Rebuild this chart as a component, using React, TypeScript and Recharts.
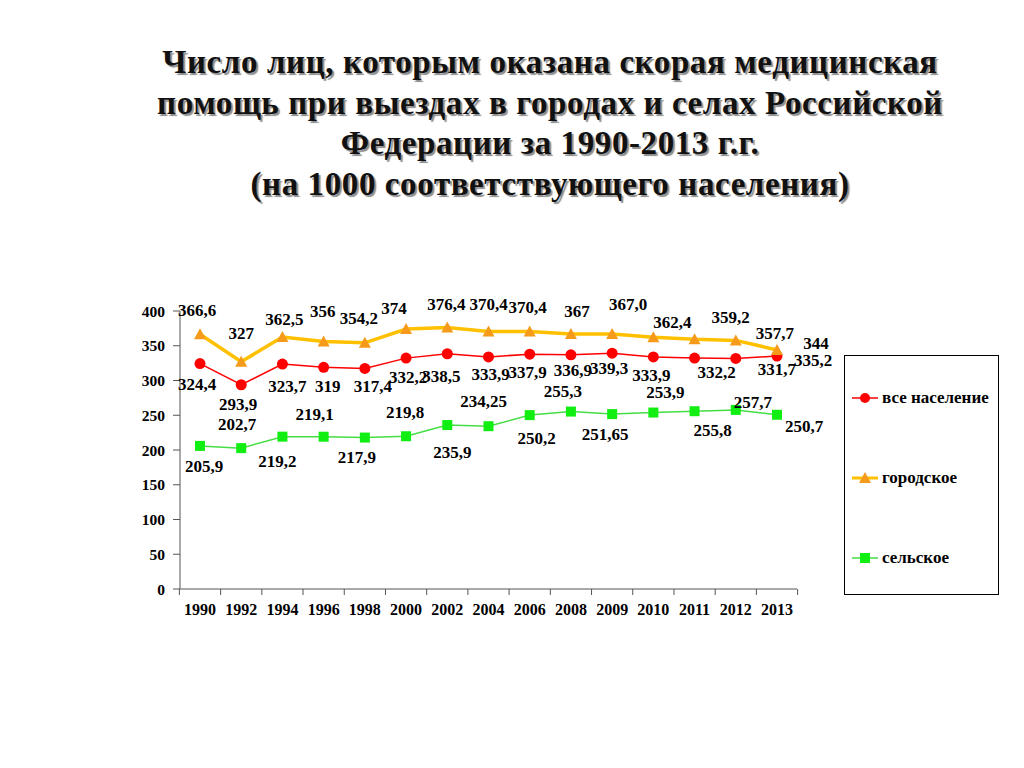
import React from 'react';
import { LineChart, Line, XAxis, YAxis, Legend, LabelList } from 'recharts';

const years = ['1990', '1992', '1994', '1996', '1998', '2000', '2002', '2004', '2006', '2008', '2009', '2010', '2011', '2012', '2013'];
const allPopulation = [324.4, 293.9, 323.7, 319, 317.4, 332.2, 338.5, 333.9, 337.9, 336.9, 339.3, 333.9, 332.2, 331.7, 335.2];
const urban = [366.6, 327, 362.5, 356, 354.2, 374, 376.4, 370.4, 370.4, 367, 367.0, 362.4, 359.2, 357.7, 344];
const rural = [205.9, 202.7, 219.2, 219.1, 217.9, 219.8, 235.9, 234.25, 250.2, 255.3, 251.65, 253.9, 255.8, 257.7, 250.7];
const yTicks = [0, 50, 100, 150, 200, 250, 300, 350, 400];

// label offsets from each point, [dx, dy], as placed on the original slide
const urbanShift = [[-3, -24], [0, -28], [2, -18], [-1, -30], [-6, -24], [-12, -21], [-1, -23], [0, -27], [-2, -24], [6, -22], [16, -29], [19, -15], [36, -22], [39, -7], [39, -6]];
const allShift = [[-3, 21], [-3, 20], [5, 22], [4, 19], [8, 18], [2, 19], [-6, 23], [2, 18], [-2, 18], [2, 16], [-3, 15], [-2, 19], [22, 14], [41, 11], [36, 4]];
const ruralShift = [[4, 21], [-4, -24], [-5, 25], [-9, -22], [-8, 20], [-1, -24], [5, 27], [-5, -25], [7, 23], [-8, -20], [-7, 20], [12, -20], [18, 19], [17, -7], [27, 12]];

const chartData = years.map((year, i) => ({
  year,
  all: allPopulation[i],
  urban: urban[i],
  rural: rural[i],
}));

const FONT = '"Liberation Serif", "Times New Roman", serif';
const RED = '#ff0000';
const GOLD = '#ffc000';
const ORANGE = '#f59a1a';
const GREEN_LINE = '#44dd44';
const GREEN = '#11ee11';
const HALF_STEP = 20.6;
const LAST = years.length - 1;

const fmt = (v: number, i: number, key: string) => {
  if (key === 'urban' && i === 10) return '367,0';
  return String(v).replace('.', ',');
};

const makeLabel = (shift: number[][], key: string) => (props: any) => {
  const { x, y, value, index } = props;
  const [dx, dy] = shift[index] || [0, 0];
  return (
    <text x={x + dx} y={y + dy} textAnchor="middle" dominantBaseline="central" fontFamily={FONT} fontWeight="bold" fontSize={17} fill="#000">
      {fmt(value, index, key)}
    </text>
  );
};

const Triangle = ({ cx, cy }: { cx: number; cy: number }) => (
  <polygon points={`${cx},${cy - 6} ${cx + 6},${cy + 5} ${cx - 6},${cy + 5}`} fill={ORANGE} />
);
const Square = ({ cx, cy }: { cx: number; cy: number }) => (
  <rect x={cx - 5} y={cy - 5} width={10} height={10} fill={GREEN} />
);

const XTick = (props: any) => {
  const { x, y, payload, index } = props;
  const axisY = y - 8;
  return (
    <g>
      <line x1={x - HALF_STEP} y1={axisY} x2={x - HALF_STEP} y2={axisY + 6} stroke="#555" />
      {index === LAST && <line x1={x + HALF_STEP} y1={axisY} x2={x + HALF_STEP} y2={axisY + 6} stroke="#555" />}
      <text x={x} y={axisY + 20} textAnchor="middle" dominantBaseline="central" fontFamily={FONT} fontWeight="bold" fontSize={16} fill="#000">
        {payload.value}
      </text>
    </g>
  );
};

const legendItems = [
  { name: 'все население', kind: 'circle' },
  { name: 'городское', kind: 'triangle' },
  { name: 'сельское', kind: 'square' },
];

const LegendBox = () => (
  <div style={{ width: 155, height: 240, border: '1px solid #000', boxSizing: 'border-box', position: 'relative', background: '#fff' }}>
    {legendItems.map((item, i) => (
      <div key={item.name} style={{ position: 'absolute', left: 5, top: 30 + i * 80, height: 24, display: 'flex', alignItems: 'center' }}>
        <svg width={30} height={24}>
          {item.kind === 'circle' && (
            <g>
              <line x1={2} y1={12} x2={28} y2={12} stroke={RED} strokeWidth={1.5} />
              <circle cx={15} cy={12} r={5} fill={RED} />
            </g>
          )}
          {item.kind === 'triangle' && (
            <g>
              <line x1={2} y1={12} x2={28} y2={12} stroke={GOLD} strokeWidth={3} />
              <polygon points="15,6 21,17 9,17" fill={ORANGE} />
            </g>
          )}
          {item.kind === 'square' && (
            <g>
              <line x1={2} y1={12} x2={28} y2={12} stroke={GREEN_LINE} strokeWidth={1.5} />
              <rect x={10} y={7} width={10} height={10} fill={GREEN} />
            </g>
          )}
        </svg>
        <span style={{ fontFamily: FONT, fontWeight: 'bold', fontSize: 17, color: '#000', marginLeft: 2, whiteSpace: 'nowrap' }}>
          {item.name}
        </span>
      </div>
    ))}
  </div>
);

const titleLines = [
  'Число лиц, которым оказана скорая медицинская',
  'помощь при выездах в городах и селах Российской',
  'Федерации за 1990-2013 г.г.',
  '(на 1000 соответствующего населения)',
];

export default function App() {
  return (
    <div style={{ position: 'absolute', left: 0, top: 0, width: 1024, height: 768, background: '#fff', overflow: 'hidden' }}>
      <div style={{ position: 'absolute', left: 50, top: 42, width: 1000, textAlign: 'center', fontFamily: FONT, fontWeight: 'bold', fontSize: 33, letterSpacing: 0.6, lineHeight: '40.7px', color: '#111', textShadow: '2px 2px 1px rgba(0,0,0,0.45)' }}>
        {titleLines.map((l) => (
          <div key={l}>{l}</div>
        ))}
      </div>
      <div style={{ position: 'absolute', left: 0, top: 0 }}>
        <LineChart width={1024} height={768} data={chartData} margin={{ top: 311, right: 227, bottom: 149, left: 130 }}>
          <XAxis dataKey="year" padding={{ left: 20, right: 20 }} tickLine={false} tick={<XTick />} interval={0} stroke="#555" height={30} />
          <YAxis domain={[0, 400]} ticks={yTicks} width={50} stroke="#555" tickSize={7} tickMargin={8} tick={{ fontFamily: FONT, fontWeight: 'bold', fontSize: 15.5, fill: '#000' }} />
          <Legend layout="vertical" align="center" verticalAlign="middle" wrapperStyle={{ left: 844, top: 355, width: 155, height: 240 }} content={() => <LegendBox />} />
          <Line dataKey="all" name="все население" stroke={RED} strokeWidth={1.5} isAnimationActive={false}
            dot={(p: any) => <circle key={`a${p.index}`} cx={p.cx} cy={p.cy} r={5.5} fill={RED} />}>
            <LabelList dataKey="all" content={makeLabel(allShift, 'all')} />
          </Line>
          <Line dataKey="urban" name="городское" stroke={GOLD} strokeWidth={3.5} isAnimationActive={false}
            dot={(p: any) => <Triangle key={`u${p.index}`} cx={p.cx} cy={p.cy} />}>
            <LabelList dataKey="urban" content={makeLabel(urbanShift, 'urban')} />
          </Line>
          <Line dataKey="rural" name="сельское" stroke={GREEN_LINE} strokeWidth={1.5} isAnimationActive={false}
            dot={(p: any) => <Square key={`r${p.index}`} cx={p.cx} cy={p.cy} />}>
            <LabelList dataKey="rural" content={makeLabel(ruralShift, 'rural')} />
          </Line>
        </LineChart>
      </div>
    </div>
  );
}
